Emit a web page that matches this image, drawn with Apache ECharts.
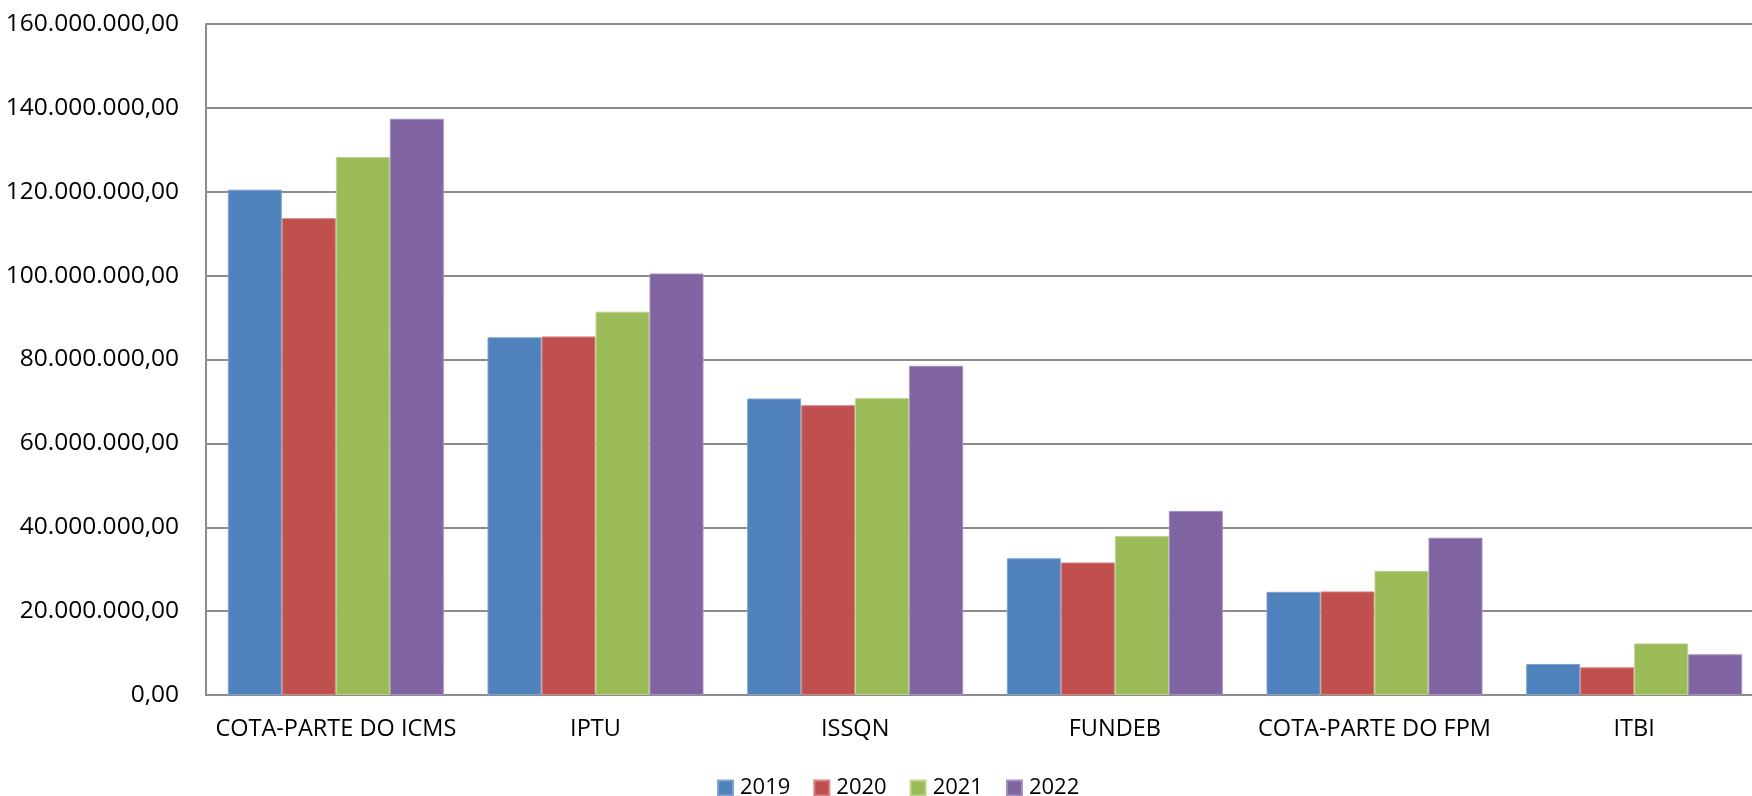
<!DOCTYPE html>
<html>
<head>
<meta charset="utf-8">
<script src="https://cdn.jsdelivr.net/npm/echarts@6/dist/echarts.min.js"></script>
<style>
  html, body { margin: 0; padding: 0; background: #fff; overflow: hidden; }
  #chart { width: 1770px; height: 796px; }
</style>
</head>
<body>
<div id="chart"></div>
<script>
var categories = ['COTA-PARTE DO ICMS', 'IPTU', 'ISSQN', 'FUNDEB', 'COTA-PARTE DO FPM', 'ITBI'];
var years = ['2019', '2020', '2021', '2022'];

// valores em R$
var v2019 = [120500000, 85300000, 70700000, 32600000, 24600000, 7400000];
var v2020 = [113700000, 85500000, 69100000, 31600000, 24700000, 6600000];
var v2021 = [128300000, 91400000, 70800000, 37900000, 29600000, 12300000];
var v2022 = [137400000, 100500000, 78500000, 43900000, 37500000, 9700000];

var colors = ['#4F81BD', '#C0504D', '#9BBB59', '#8064A2'];
var borders = ['#7FA3D1', '#D88482', '#BDD58E', '#A38FBE'];

function formatBR(v) {
  var parts = Math.round(v).toString().replace(/\B(?=(\d{3})+(?!\d))/g, '.');
  return parts + ',00';
}

var chart = echarts.init(document.getElementById('chart'));

var seriesData = [v2019, v2020, v2021, v2022];
var series = years.map(function (y, i) {
  return {
    name: y,
    type: 'bar',
    data: seriesData[i],
    barWidth: 54,
    barGap: '0%',
    itemStyle: { color: colors[i], borderColor: borders[i], borderWidth: 1 }
  };
});

var option = {
  animation: false,
  textStyle: { fontFamily: 'Open Sans' },
  color: colors,
  grid: { left: 206, top: 24, width: 1558, height: 671, containLabel: false },
  legend: {
    data: years,
    left: 712,
    top: 772,
    itemWidth: 15,
    itemHeight: 15,
    itemGap: 23,
    icon: 'rect',
    textStyle: { fontSize: 22, color: '#000', fontFamily: 'Open Sans', padding: [0, 0, 0, 2] }
  },
  xAxis: {
    type: 'category',
    data: categories,
    axisLine: { lineStyle: { color: '#8c8c8c', width: 2 } },
    axisTick: { show: false },
    axisLabel: { color: '#000', fontSize: 23.5, margin: 22, interval: 0 }
  },
  yAxis: {
    type: 'value',
    min: 0,
    max: 160000000,
    interval: 20000000,
    axisLine: { show: true, lineStyle: { color: '#8c8c8c', width: 2 } },
    axisTick: { show: false },
    splitLine: { lineStyle: { color: '#8c8c8c', width: 2 } },
    axisLabel: { color: '#000', fontSize: 24.5, margin: 27, formatter: formatBR }
  },
  series: series
};

chart.setOption(option);
</script>
</body>
</html>
